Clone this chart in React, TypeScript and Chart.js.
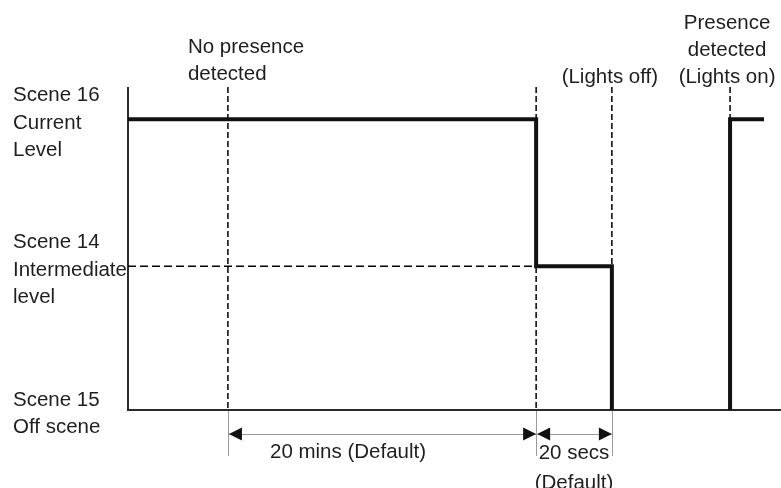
import { useEffect, useRef } from "react";
import { Chart, registerables } from "chart.js";

Chart.register(...registerables);

// ---- data ----
const levelNames = [
  ["Scene 16", "Current", "Level"],
  ["Scene 14", "Intermediate", "level"],
  ["Scene 15", "Off scene"],
];
const levelValues = [9, 4.45, 0];

const signalTimes = [0, 62.5, 62.5, 74.1, 74.1, 92.2, 92.2, 97.4];
const signalLevels = [9, 9, 4.45, 4.45, 0, 0, 9, 9];

const eventTimes = [15.3, 62.5, 74.1, 92.2];
const eventGuideBottom = [0, 0, 4.45, 9];
const eventLabels = [
  ["No presence", "detected"],
  [],
  ["(Lights off)"],
  ["Presence", "detected", "(Lights on)"],
];

const spanFrom = [0, 1]; // indexes into eventTimes
const spanTo = [1, 2];
const spanLabels = [["20 mins (Default)"], ["20 secs", "(Default)"]];

// ---- layout (not data) ----
const FONT = '20.5px "Liberation Sans", Arial, sans-serif';
const TEXT = "#1e1e1e";
const LINE_H = 27.5;
const topLabelLayout = [
  { align: "left" as CanvasTextAlign, dx: -40, dy: -7 },
  { align: "center" as CanvasTextAlign, dx: 0, dy: -4 },
  { align: "center" as CanvasTextAlign, dx: -2, dy: -4 },
  { align: "center" as CanvasTextAlign, dx: -3, dy: -4 },
];
const spanLabelLayout = [
  { dx: -34, dy: 48 },
  { dx: 0, dy: 49 },
];

const annotatePlugin = {
  id: "annotate",
  beforeDatasetsDraw(chart: any) {
    const { ctx, chartArea } = chart;
    ctx.save();
    ctx.strokeStyle = "#2a2a2a";
    ctx.lineWidth = 2;
    ctx.beginPath();
    ctx.moveTo(chartArea.left, chartArea.top);
    ctx.lineTo(chartArea.left, chartArea.bottom);
    ctx.lineTo(chart.width, chartArea.bottom);
    ctx.stroke();
    ctx.restore();
  },
  afterDatasetsDraw(chart: any) {
    const { ctx, chartArea } = chart;
    const xs = chart.scales.x;
    const ys = chart.scales.y;
    ctx.save();
    ctx.font = FONT;
    ctx.fillStyle = TEXT;
    ctx.textBaseline = "alphabetic";

    // level labels on the left
    ctx.textAlign = "left";
    levelNames.forEach((lines, i) => {
      const c = ys.getPixelForValue(levelValues[i]) + 2;
      const n = lines.length;
      lines.forEach((t, j) => {
        const center = c + (j - (n - 1) / 2) * LINE_H;
        ctx.fillText(t, 13, center + 7.5);
      });
    });

    // event labels on top
    eventLabels.forEach((lines, i) => {
      const lay = topLabelLayout[i];
      const px = xs.getPixelForValue(eventTimes[i]) + lay.dx;
      ctx.textAlign = lay.align;
      const n = lines.length;
      lines.forEach((t, j) => {
        const base = chartArea.top + lay.dy - (n - 1 - j) * 27;
        ctx.fillText(t, px, base);
      });
    });

    // dimension lines
    const arrowY = chartArea.bottom + 24;
    const extEnd = chartArea.bottom + 46;
    const used = new Set<number>();
    spanFrom.forEach((a, i) => {
      used.add(a);
      used.add(spanTo[i]);
    });
    ctx.strokeStyle = "#9a9a9a";
    ctx.lineWidth = 1;
    used.forEach((idx) => {
      const px = Math.round(xs.getPixelForValue(eventTimes[idx])) + 0.5;
      ctx.beginPath();
      ctx.moveTo(px, chartArea.bottom + 1);
      ctx.lineTo(px, extEnd);
      ctx.stroke();
    });

    const head = (tipX: number, dir: number) => {
      ctx.beginPath();
      ctx.moveTo(tipX, arrowY);
      ctx.lineTo(tipX + dir * 13, arrowY - 6.5);
      ctx.lineTo(tipX + dir * 13, arrowY + 6.5);
      ctx.closePath();
      ctx.fill();
    };

    spanFrom.forEach((a, i) => {
      const x0 = xs.getPixelForValue(eventTimes[a]);
      const x1 = xs.getPixelForValue(eventTimes[spanTo[i]]);
      ctx.strokeStyle = "#9a9a9a";
      ctx.lineWidth = 1;
      ctx.beginPath();
      ctx.moveTo(x0, Math.round(arrowY) + 0.5);
      ctx.lineTo(x1, Math.round(arrowY) + 0.5);
      ctx.stroke();
      ctx.fillStyle = "#111";
      head(x0 + 1, 1);
      head(x1, -1);

      const lay = spanLabelLayout[i];
      ctx.fillStyle = TEXT;
      ctx.textAlign = "center";
      const cx = (x0 + x1) / 2 + lay.dx;
      spanLabels[i].forEach((t, j) => {
        ctx.fillText(t, cx, chartArea.bottom + lay.dy + j * 30);
      });
    });
    ctx.restore();
  },
};

export default function App() {
  const ref = useRef<HTMLCanvasElement | null>(null);

  useEffect(() => {
    document.body.style.margin = "0";
    const canvas = ref.current;
    if (!canvas) return;

    const signal = signalTimes.map((x, i) => ({ x, y: signalLevels[i] }));
    const guides = eventTimes.map((x, i) => ({
      type: "line" as const,
      data: [
        { x, y: 10 },
        { x, y: eventGuideBottom[i] },
      ],
      borderColor: "#000000",
      borderWidth: 1.5,
      borderDash: [6, 3],
      pointRadius: 0,
      fill: false,
    }));
    const levelGuide = {
      type: "line" as const,
      data: [
        { x: 0, y: levelValues[1] },
        { x: signalTimes[1], y: levelValues[1] },
      ],
      borderColor: "#000000",
      borderWidth: 1.5,
      borderDash: [8, 4],
      pointRadius: 0,
      fill: false,
    };

    const chart = new Chart(canvas, {
      type: "line",
      data: {
        datasets: [
          {
            data: signal,
            borderColor: "#111111",
            borderWidth: 4,
            borderJoinStyle: "miter",
            pointRadius: 0,
            fill: false,
            segment: {
              borderColor: (c: any) =>
                c.p0.parsed.y === 0 && c.p1.parsed.y === 0 ? "rgba(0,0,0,0)" : "#111111",
            },
          } as any,
          ...guides,
          levelGuide,
        ],
      },
      options: {
        responsive: false,
        animation: false,
        devicePixelRatio: 1,
        layout: { padding: { left: 128, right: 0, top: 87, bottom: 78 } },
        plugins: {
          legend: { display: false },
          tooltip: { enabled: false },
          title: { display: false },
        },
        scales: {
          x: { type: "linear", min: 0, max: 100, display: false },
          y: { type: "linear", min: 0, max: 10, display: false },
        },
      },
      plugins: [annotatePlugin],
    });

    return () => chart.destroy();
  }, []);

  return (
    <div style={{ width: 781, height: 488 }}>
      <canvas ref={ref} width={781} height={488} style={{ display: "block" }} />
    </div>
  );
}
